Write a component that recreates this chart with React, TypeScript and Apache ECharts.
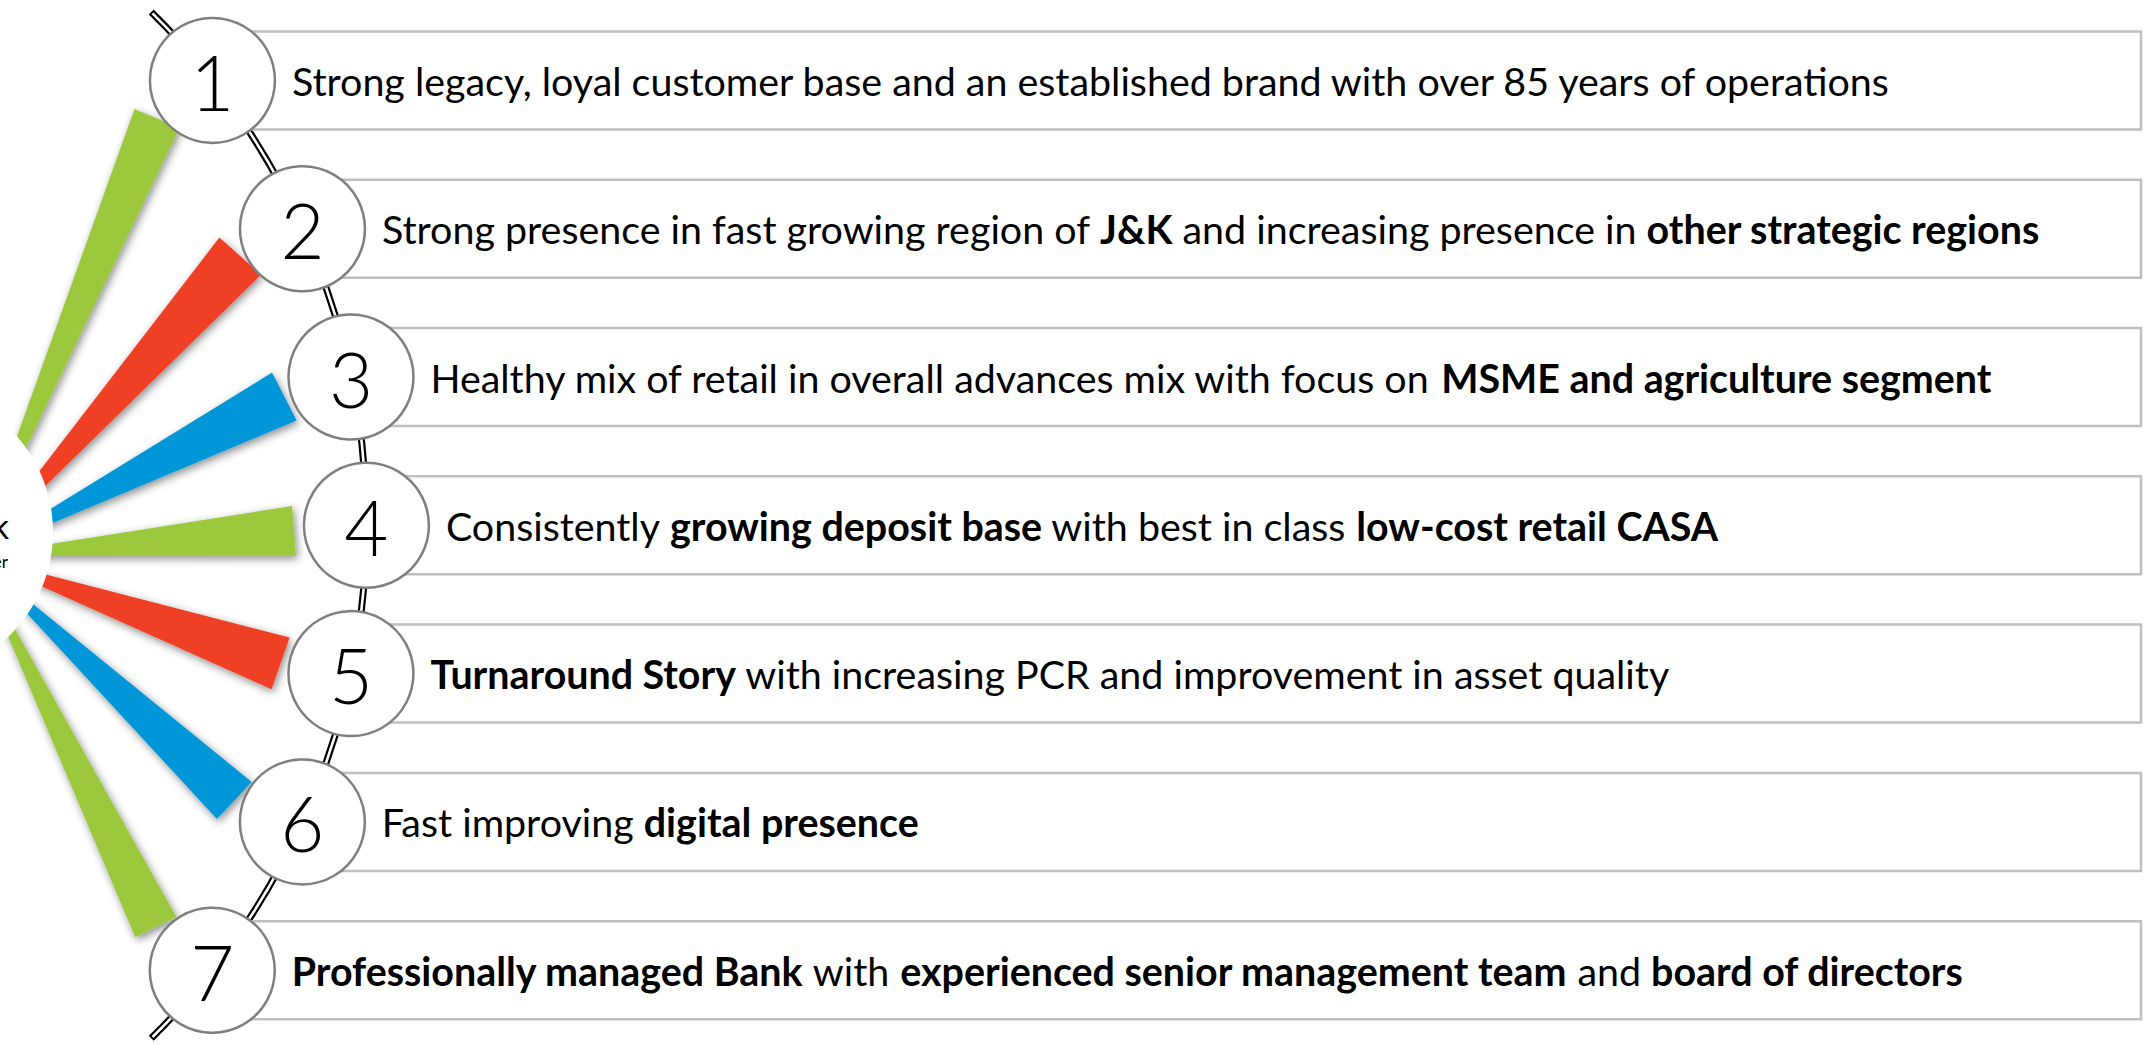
import React, { useEffect, useRef } from "react";
import * as echarts from "echarts";

// ---- content ----
const numbers = ["1", "2", "3", "4", "5", "6", "7"];
// each item: list of [text, bold]
const item1: [string, boolean][] = [["Strong legacy, loyal customer base and an established brand with over 85 years of operations", false]];
const item2: [string, boolean][] = [["Strong presence in fast growing region of ", false], ["J&K", true], [" and increasing presence in ", false], ["other strategic regions", true]];
const item3: [string, boolean][] = [["Healthy mix of retail in overall advances mix with focus on ", false], ["MSME and agriculture segment", true]];
const item4: [string, boolean][] = [["Consistently ", false], ["growing deposit base", true], [" with best in class ", false], ["low-cost retail CASA", true]];
const item5: [string, boolean][] = [["Turnaround Story", true], [" with increasing PCR and improvement in asset quality", false]];
const item6: [string, boolean][] = [["Fast improving ", false], ["digital presence", true]];
const item7: [string, boolean][] = [["Professionally managed Bank", true], [" with ", false], ["experienced senior management team", true], [" and ", false], ["board of directors", true]];
const items = [item1, item2, item3, item4, item5, item6, item7];
const logoName = "J&K Bank";
const logoTagline = "Serving To Empower";

// ---- layout / style ----
const W = 2151;
const H = 1044;
const FIRST_Y = 80.4;
const STEP = 148.3;
const BOX_H = 98;
const BOX_RIGHT = 2141;
const CIRCLE_R = 62.5;
const ARC_CX = -353;
const ARC_CY = 525.2;
const ARC_R = 719.4;
const ARC_A = 45.5; // degrees
const HUB = [-26, 556];
const RAY_ANGLES = [-67.3, -48.4, -27.2, -4.5, 19.3, 43.2, 63.9];
const RAY_LEN = [475, 402, 350, 322, 326, 358, 414];
const RAY_W = [49, 56, 54, 50, 55, 51, 46];
const RAY_COLORS = ["#9BC83E", "#EF4027", "#0096D8", "#9BC83E", "#EF4027", "#0096D8", "#9BC83E"];
const FONT = "Lato";
const LINE1_TARGET = 1601;

function measure(text: string, size: number, weight: string) {
  const c = document.createElement("canvas");
  const ctx = c.getContext("2d")!;
  ctx.font = `${weight} ${size}px ${FONT}`;
  return ctx.measureText(text).width;
}

export default function App() {
  const ref = useRef<HTMLDivElement>(null);
  useEffect(() => {
    document.body.style.margin = "0";
    const chart = echarts.init(ref.current!, null, { renderer: "svg" });
    const w40 = measure(item1.map((s) => s[0]).join(""), 40, "400");
    const fs = Math.round((40 * LINE1_TARGET) / w40 * 10) / 10;

    const els: any[] = [];
    // rays
    RAY_ANGLES.forEach((a, i) => {
      const L = RAY_LEN[i];
      const d = Math.atan(RAY_W[i] / 2 / L);
      const t = (a * Math.PI) / 180;
      const p1 = [HUB[0] + L * Math.cos(t - d), HUB[1] + L * Math.sin(t - d)];
      const p2 = [HUB[0] + L * Math.cos(t + d), HUB[1] + L * Math.sin(t + d)];
      els.push({
        type: "polygon",
        z: 1,
        shape: { points: [HUB, p1, p2] },
        style: {
          fill: RAY_COLORS[i],
          shadowBlur: 8,
          shadowColor: "rgba(0,0,0,0.45)",
          shadowOffsetX: 2,
          shadowOffsetY: 3,
        },
      });
    });
    // logo disc
    els.push({ type: "circle", z: 2, shape: { cx: -92, cy: 532, r: 145 }, style: { fill: "#fff" } });
    els.push({
      type: "text", z: 3, x: 9, y: 525,
      style: { text: logoName, fontFamily: FONT, fontWeight: 400, fontSize: 35, fill: "#000", align: "right", verticalAlign: "middle" },
    });
    els.push({
      type: "text", z: 3, x: 8, y: 561,
      style: { text: logoTagline, fontFamily: FONT, fontWeight: 400, fontSize: 17, fill: "#000", align: "right", verticalAlign: "middle" },
    });
    // double arc
    const a0 = (-ARC_A * Math.PI) / 180;
    const a1 = (ARC_A * Math.PI) / 180;
    const eps = 1.8 / ARC_R;
    els.push({
      type: "arc", z: 4,
      shape: { cx: ARC_CX, cy: ARC_CY, r: ARC_R, startAngle: a0, endAngle: a1, clockwise: true },
      style: { stroke: "#000", lineWidth: 7, fill: "none", lineCap: "butt" },
    });
    els.push({
      type: "arc", z: 4.1,
      shape: { cx: ARC_CX, cy: ARC_CY, r: ARC_R, startAngle: a0 + eps, endAngle: a1 - eps, clockwise: true },
      style: { stroke: "#fff", lineWidth: 2.6, fill: "none", lineCap: "butt" },
    });

    items.forEach((segs, i) => {
      const cy = FIRST_Y + i * STEP;
      const cx = ARC_CX + Math.sqrt(ARC_R * ARC_R - (cy - ARC_CY) * (cy - ARC_CY));
      els.push({
        type: "rect", z: 5,
        shape: { x: cx, y: cy - BOX_H / 2, width: BOX_RIGHT - cx, height: BOX_H },
        style: { fill: "#fff", stroke: "#BFBFBF", lineWidth: 2.5 },
      });
      els.push({
        type: "circle", z: 6,
        shape: { cx, cy, r: CIRCLE_R },
        style: { fill: "#fff", stroke: "#7F7F7F", lineWidth: 2.5 },
      });
      els.push({
        type: "text", z: 7, x: cx, y: cy + 1,
        style: { text: numbers[i], fontFamily: FONT, fontWeight: 300, fontSize: 76, fill: "#000", align: "center", verticalAlign: "middle" },
      });
      const txt = segs
        .map(([s, b]) => `{${b ? "b" : "n"}|${s}}`)
        .join("");
      els.push({
        type: "text", z: 7, x: cx + CIRCLE_R + 17, y: cy,
        style: {
          text: txt,
          align: "left",
          verticalAlign: "middle",
          fontFamily: FONT,
          fontSize: fs,
          fill: "#000",
          rich: {
            n: { fontFamily: FONT, fontSize: fs, fontWeight: 400, fill: "#000" },
            b: { fontFamily: FONT, fontSize: fs, fontWeight: 700, fill: "#000" },
          },
        },
      });
    });

    chart.setOption({ animation: false, graphic: { elements: els } });
    return () => chart.dispose();
  }, []);
  return <div ref={ref} style={{ position: "absolute", left: 0, top: 0, width: W, height: H, background: "#fff" }} />;
}
